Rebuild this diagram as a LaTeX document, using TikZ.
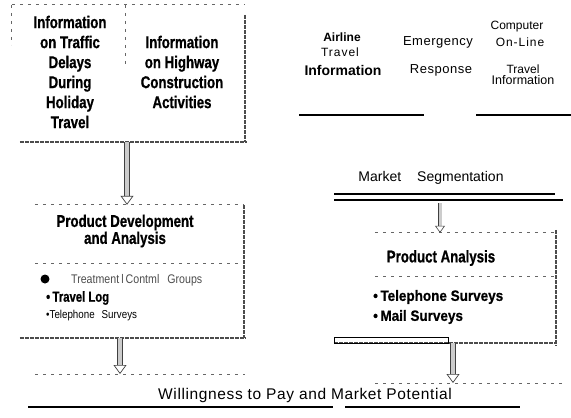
\documentclass[tikz,border=0pt]{standalone}
\usepackage{fontspec}
\setmainfont{Liberation Sans}
\newfontfamily\cond[FakeStretch=0.78,FakeBold=0.8]{Liberation Sans}
\newfontfamily\condb[FakeStretch=0.9,FakeBold=0.6]{Liberation Sans}
\newfontfamily\narr[FakeStretch=0.85]{Liberation Sans}
\newfontfamily\spc[LetterSpace=8]{Liberation Sans}
\newfontfamily\spcw[LetterSpace=4]{Liberation Sans}
\usetikzlibrary{arrows.meta}
\begin{document}
\begin{tikzpicture}[x=1pt,y=-1pt,
  heading/.style={font=\cond\bfseries\fontsize{17}{20}\selectfont, align=center, inner sep=0},
  boxarea/.style={rectangle, draw=none, inner sep=0},
  edgeT/.style={draw=black!60, line width=0.8pt, dash pattern=on 3pt off 5pt},
  edgeR/.style={draw=black!70, line width=1.6pt, dash pattern=on 4pt off 1pt},
  hollow/.style={draw=black!75, line width=0.7pt, double=black!20, double distance=4pt, -{Triangle[open, width=13pt, length=9pt]}},
  hollows/.style={draw=black!75, line width=0.6pt, double=black!20, double distance=3pt, -{Triangle[open, width=10pt, length=7pt]}},
  rule/.style={line width=1.6pt, black}
]
\useasboundingbox (0,0) rectangle (571,418);

% ---------- top-left box ----------
\node[boxarea, minimum width=233pt, minimum height=137pt] (tb) at (128.5,73.5) {};
\draw[edgeT] (tb.north west) -- (tb.north east);
\draw[edgeT] (tb.north west) -- ++(0,40);
\draw[edgeT] ([xshift=-3.5pt]tb.north) -- ++(0,62);
\draw[edgeR] ([yshift=-10pt]tb.north east) -- (tb.south east);
\draw[edgeR] ([xshift=8pt]tb.south west) -- ([xshift=2pt]tb.south east);
\node[heading] (t1) at (70,72) {Information\\on Traffic\\Delays\\During\\Holiday\\Travel};
\node[heading] (t2) at (182,72) {Information\\on Highway\\Construction\\Activities};

% ---------- product development box ----------
\node[boxarea, minimum width=224pt, minimum height=133pt] (pd) at (132,271.5) {};
\draw[edgeT] ([xshift=15pt]pd.north west) -- (pd.north east);
\draw[edgeR] (pd.north east) -- (pd.south east);
\draw[edgeR] (pd.south west) -- ([xshift=2pt]pd.south east);
\draw[edgeT] (35,263) -- (240,263);
\node[heading, font=\cond\bfseries\fontsize{17}{17}\selectfont] (pdt) at (125,231) {Product Development\\and Analysis};
\node[circle, fill, minimum size=9pt, inner sep=0] (b1) at (45,279) {};
\node[anchor=west, inner sep=0, font=\narr\fontsize{12.5}{14}\selectfont, text=black!70] (g1) at (71,280) {Treatment\,l\,Contml\hspace{8pt}Groups};
\node[anchor=west, inner sep=0, font=\cond\bfseries\fontsize{14.5}{16}\selectfont] (g2) at (46,298) {•\,Travel Log};
\node[anchor=west, inner sep=0, font=\narr\fontsize{11.5}{13}\selectfont] (g3) at (46,316) {•Telephone\hspace{7pt}Surveys};

% arrows left
\draw[hollow] ([xshift=-1.5pt]tb.south) -- (pd.north -| 127,0);
\coordinate (ll) at (120,374);
\draw[hollow] (pd.south -| ll) -- (ll);
\draw[edgeT] (35,374) -- (245,374);

% ---------- right top texts ----------
\node[font=\bfseries\fontsize{12}{14}\selectfont, inner sep=0] (r1) at (342,37) {Airline};
\node[font=\spc\fontsize{12}{14}\selectfont, inner sep=0] (r2) at (340,52) {Travel};
\node[font=\bfseries\fontsize{14}{16}\selectfont, inner sep=0] (r3) at (343,70) {Information};
\node[font=\spcw\fontsize{13}{14}\selectfont, inner sep=0] (r4) at (438,42) {Emergency};
\node[font=\spcw\fontsize{13}{14}\selectfont, inner sep=0] (r5) at (441,70) {Response};
\node[font=\fontsize{12}{14}\selectfont, inner sep=0] (r6) at (517,27) {Computer};
\node[font=\spc\fontsize{12}{14}\selectfont, inner sep=0] (r7) at (520,42) {On-Line};
\node[font=\fontsize{12}{14}\selectfont, inner sep=0] (r8) at (523,69) {Travel};
\node[font=\fontsize{12.5}{14}\selectfont, inner sep=0] (r9) at (523,80) {Information};
\draw[rule] (299,115) -- (424,115);
\draw[rule] (476,115) -- (571,115);

\node[font=\fontsize{14}{16}\selectfont, inner sep=0] (ms) at (431,178) {Market\hspace{16pt}Segmentation};
\draw[rule] (334,194) -- (555,194);
\draw[rule] (334,200) -- (563,200);

% ---------- product analysis box ----------
\node[boxarea, minimum width=222pt, minimum height=110pt] (pa) at (445,288) {};
\draw[edgeT] ([xshift=41pt]pa.north west) -- (pa.north east);
\draw[edgeT] (375,276) -- (556,276);
\draw[edgeR] ([yshift=3pt]pa.north east) -- ([yshift=-2pt]pa.south east);
\draw[edgeR] (pa.south west) -- (pa.south east);
\draw[line width=1pt] (334,337) rectangle (448,343);
\node[heading] (pat) at (441,258) {Product Analysis};
\node[anchor=west, inner sep=0, font=\condb\bfseries\fontsize{15}{17}\selectfont] (p1) at (373,297) {•\,Telephone Surveys};
\node[anchor=west, inner sep=0, font=\condb\bfseries\fontsize{15}{17}\selectfont] (p2) at (373,317) {•\,Mail Surveys};

\coordinate (ms2) at (440,203);
\draw[hollows] (ms2) -- (pa.north -| ms2);
\coordinate (rl) at (453,383);
\draw[hollow] (pa.south -| rl) -- (rl);
\draw[edgeT] (375,383) -- (565,383);

% ---------- bottom ----------
\node[font=\spcw\fontsize{15.5}{17}\selectfont, inner sep=0] (wp) at (305,395) {Willingness to Pay and Market Potential};
\draw[rule, line width=1.8pt] (28,407) -- (333,407);
\draw[rule, line width=1.8pt] (345,407) -- (520,407);
\end{tikzpicture}
\end{document}
